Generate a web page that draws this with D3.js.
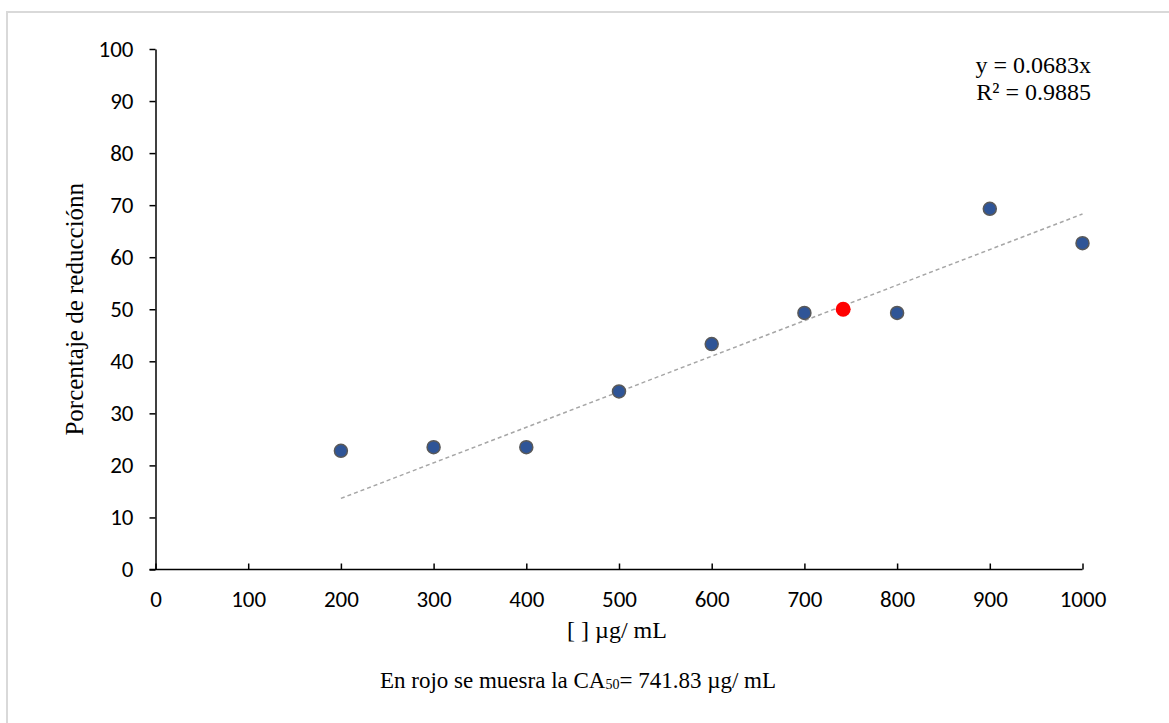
<!DOCTYPE html>
<html>
<head>
<meta charset="utf-8">
<script src="https://cdn.jsdelivr.net/npm/d3@7"></script>
<style>
  body { margin: 0; background: #fff; }
  svg { display: block; }
</style>
</head>
<body>
<div id="container"></div>
<script>
const concentrations = [200, 300, 400, 500, 600, 700, 800, 900, 1000];
const reductions = [22.8, 23.5, 23.5, 34.2, 43.3, 49.3, 49.3, 69.3, 62.7];
const ca50 = [741.83, 50];
const slope = 0.0683;
const xTicks = [0, 100, 200, 300, 400, 500, 600, 700, 800, 900, 1000];
const yTicks = [0, 10, 20, 30, 40, 50, 60, 70, 80, 90, 100];

const width = 1169;
const height = 723;

const svg = d3.select("#container")
  .append("svg")
  .attr("width", width)
  .attr("height", height);

// chart frame
svg.append("rect")
  .attr("x", 7).attr("y", 12)
  .attr("width", 1170).attr("height", 730)
  .attr("fill", "none")
  .attr("stroke", "#d9d9d9")
  .attr("stroke-width", 2);

const xScale = d3.scaleLinear().domain([0, 1000]).range([155.5, 1082.5]);
const yScale = d3.scaleLinear().domain([0, 100]).range([569.5, 49]);

const tickFont = "Calibri, Carlito, Lato, sans-serif";
const serif = "'Times New Roman', 'Liberation Serif', serif";

const xAxis = d3.axisBottom(xScale).tickValues(xTicks).tickFormat(d3.format("d"))
  .tickSizeInner(-6).tickSizeOuter(0).tickPadding(21);
const yAxis = d3.axisLeft(yScale).tickValues(yTicks).tickFormat(d3.format("d"))
  .tickSizeInner(6).tickSizeOuter(0).tickPadding(16);

const gx = svg.append("g")
  .attr("transform", `translate(0, ${yScale(0)})`)
  .call(xAxis);
const gy = svg.append("g")
  .attr("transform", `translate(${xScale(0)}, 0)`)
  .call(yAxis);

[gx, gy].forEach(g => {
  g.select(".domain").attr("stroke", "#000").attr("stroke-width", 1.5);
  g.selectAll(".tick line").attr("stroke", "#000").attr("stroke-width", 1.5);
  g.selectAll(".tick text")
    .attr("fill", "#000")
    .style("font-family", tickFont)
    .style("font-size", "23px");
});
gx.select(".domain").attr("d", `M${xScale(0) - 6},0H${xScale(1000)}`);

// trendline
svg.append("line")
  .attr("x1", xScale(200)).attr("y1", yScale(slope * 200))
  .attr("x2", xScale(1000)).attr("y2", yScale(slope * 1000))
  .attr("stroke", "#a6a6a6")
  .attr("stroke-width", 1.5)
  .attr("stroke-dasharray", "4,3");

// points
svg.selectAll("circle.pt")
  .data(concentrations)
  .enter()
  .append("circle")
  .attr("class", "pt")
  .attr("cx", d => xScale(d))
  .attr("cy", (d, i) => yScale(reductions[i]))
  .attr("r", 6.5)
  .attr("fill", "#2f5597")
  .attr("stroke", "#595959")
  .attr("stroke-width", 1.5);

svg.append("circle")
  .attr("cx", xScale(ca50[0]))
  .attr("cy", yScale(ca50[1]))
  .attr("r", 7.5)
  .attr("fill", "#ff0000");

// equation
svg.append("text")
  .attr("x", 1091).attr("y", 73)
  .attr("text-anchor", "end")
  .style("font-family", serif).style("font-size", "24px")
  .text("y = 0.0683x");
svg.append("text")
  .attr("x", 1091).attr("y", 100)
  .attr("text-anchor", "end")
  .style("font-family", serif).style("font-size", "24px")
  .text("R² = 0.9885");

// axis titles
svg.append("text")
  .attr("transform", `translate(83, ${(yScale(0) + yScale(100)) / 2}) rotate(-90)`)
  .attr("text-anchor", "middle")
  .style("font-family", serif).style("font-size", "25px")
  .text("Porcentaje de reducciónn");

svg.append("text")
  .attr("x", 617)
  .attr("y", 638)
  .attr("text-anchor", "middle")
  .style("font-family", serif).style("font-size", "24px")
  .text("[ ] µg/ mL");

// footnote
const note = svg.append("text")
  .attr("x", 578).attr("y", 688)
  .attr("text-anchor", "middle")
  .style("font-family", serif).style("font-size", "23px");
note.append("tspan").text("En rojo se muesra la CA");
note.append("tspan").style("font-size", "14px").attr("dy", 1).text("50");
note.append("tspan").attr("dy", -1).text("= 741.83 µg/ mL");
</script>
</body>
</html>
